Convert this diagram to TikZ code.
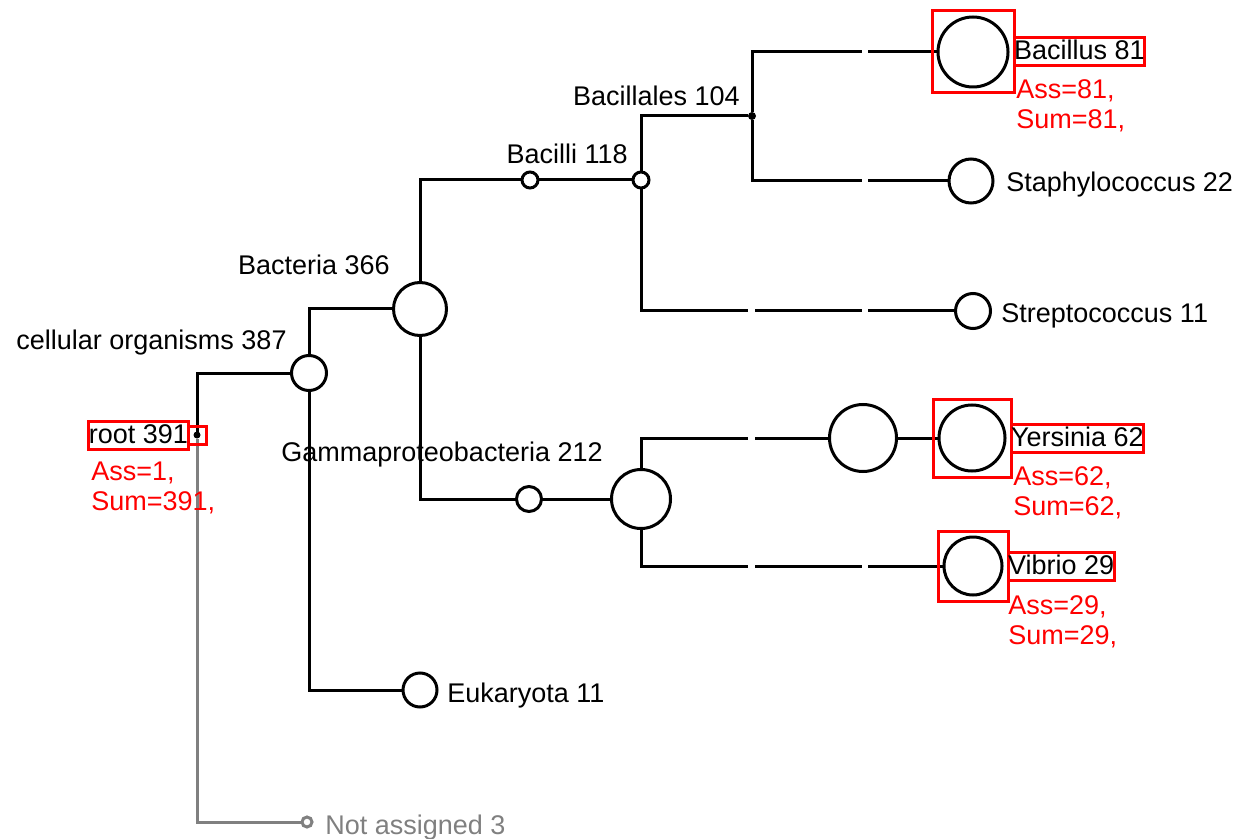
\documentclass[tikz,border=0pt]{standalone}
\usepackage{fontspec}
\setmainfont{Liberation Sans}
\usetikzlibrary{positioning, fit}

\begin{document}
\begin{tikzpicture}[x=0.5pt, y=-0.5pt,
    font=\fontsize{13.5}{15}\selectfont,
    taxon/.style={circle, draw=black, line width=1.5pt, inner sep=0pt, outer sep=0pt, minimum size=#1},
    junction/.style={circle, fill=black, inner sep=0pt, outer sep=0pt, minimum size=#1},
    edge/.style={line width=1.5pt},
    unassigned/.style={line width=1.5pt, draw=gray},
    taxlabel/.style={inner sep=0pt},
    selbox/.style={rectangle, draw=red, line width=1.5pt, inner sep=3pt, outer sep=0pt},
    sellabel/.style={rectangle, draw=red, line width=1.5pt, inner xsep=0pt, inner ysep=1.5pt, outer sep=0pt, text height=9.5pt, text depth=1.5pt},
    counts/.style={red, align=left, inner sep=0pt, anchor=north west}
]
    \useasboundingbox (0,0) rectangle (1246,839);

    % column breaks in the leaf lines
    \coordinate (gapAl) at (748,0);
    \coordinate (gapAr) at (755,0);
    \coordinate (gapBl) at (862,0);
    \coordinate (gapBr) at (868,0);

    % Inner nodes
    \node[junction=3.5pt] (root) at (197,435) {};
    \node[taxon=17.5pt] (cell) at (309,373) {};
    \node[taxon=26.5pt] (bact) at (420,309) {};
    \node[taxon=8pt] (firm) at (530,180) {};
    \node[taxon=8pt] (bacilli) at (641,180) {};
    \node[junction=4pt] (bacillales) at (752,116) {};
    \node[taxon=12.5pt] (gproto) at (529,499) {};
    \node[taxon=29.5pt] (gamma) at (641,499) {};
    \node[taxon=33.5pt] (yfam) at (863,438) {};

    % Leaves
    \node[taxon=35pt] (bacillus) at (973,52) {};
    \node[taxon=22pt] (staph) at (971,181) {};
    \node[taxon=17.5pt] (strep) at (973,311) {};
    \node[taxon=33pt] (yers) at (972,438) {};
    \node[taxon=29pt] (vibrio) at (973,566) {};
    \node[taxon=17pt] (euk) at (420,690) {};
    \node[taxon=5pt, draw=gray] (notass) at (307,822) {};

    % Tree edges
    \draw[edge] (root) |- (cell);
    \draw[unassigned] (root) |- (notass);
    \draw[edge] (cell) |- (bact);
    \draw[edge] (cell) |- (euk);
    \draw[edge] (bact) |- (firm);
    \draw[edge] (firm) -- (bacilli);
    \draw[edge] (bact) |- (gproto);
    \draw[edge] (gproto) -- (gamma);
    \draw[edge] (bacilli) |- (bacillales);

    \draw[edge] (bacillales) |- (gapBl |- bacillus);
    \draw[edge] (gapBr |- bacillus) -- (bacillus);
    \draw[edge] (bacillales) |- (gapBl |- staph);
    \draw[edge] (gapBr |- staph) -- (staph);

    \draw[edge] (bacilli) |- (gapAl |- strep);
    \draw[edge] (gapAr |- strep) -- (gapBl |- strep);
    \draw[edge] (gapBr |- strep) -- (strep);

    \draw[edge] (gamma) |- (gapAl |- yfam);
    \draw[edge] (gapAr |- yfam) -- (yfam);
    \draw[edge] (yfam) -- (yers);

    \draw[edge] (gamma) |- (gapAl |- vibrio);
    \draw[edge] (gapAr |- vibrio) -- (gapBl |- vibrio);
    \draw[edge] (gapBr |- vibrio) -- (vibrio);

    % Names of the unselected taxa
    \node[taxlabel, anchor=base east] (celllbl) at (287,350) {cellular organisms 387};
    \node[taxlabel, anchor=base east] (bactlbl) at (390,275) {Bacteria 366};
    \node[taxlabel, anchor=base east] (bacillilbl) at (628,164) {Bacilli 118};
    \node[taxlabel, anchor=base east] (bacillaleslbl) at (740,106) {Bacillales 104};
    \node[taxlabel, anchor=base east] (gammalbl) at (603,461) {Gammaproteobacteria 212};
    \node[taxlabel, anchor=base west] (staphlbl) at (1006,192) {Staphylococcus 22};
    \node[taxlabel, anchor=base west] (streplbl) at (1001,322) {Streptococcus 11};
    \node[taxlabel, anchor=base west] (euklbl) at (447,702) {Eukaryota 11};
    \node[taxlabel, anchor=base west, gray] (notasslbl) at (325,834) {Not assigned 3};

    % Selected taxa
    \node[selbox, minimum size=9pt, inner sep=0pt] (rootsel) at (root) {};
    \node[sellabel, left=0pt of rootsel] (rootlbl) {root 391};
    \node[counts] (rootcount) at ([xshift=1pt, yshift=-6.5pt]rootlbl.south west) {Ass=1,\\Sum=391,};

    \node[selbox, fit=(bacillus)] (bacillussel) {};
    \node[sellabel, right=0pt of bacillussel] (bacilluslbl) {Bacillus 81};
    \node[counts] (bacilluscount) at ([xshift=1pt, yshift=-6.5pt]bacilluslbl.south west) {Ass=81,\\Sum=81,};

    \node[selbox, fit=(yers)] (yerssel) {};
    \node[sellabel, right=0pt of yerssel] (yerslbl) {Yersinia 62};
    \node[counts] (yerscount) at ([xshift=1pt, yshift=-7pt]yerslbl.south west) {Ass=62,\\Sum=62,};

    \node[selbox, fit=(vibrio)] (vibriosel) {};
    \node[sellabel, right=0pt of vibriosel] (vibriolbl) {Vibrio 29};
    \node[counts] (vibriocount) at ([xshift=0pt, yshift=-7.5pt]vibriolbl.south west) {Ass=29,\\Sum=29,};
\end{tikzpicture}
\end{document}
